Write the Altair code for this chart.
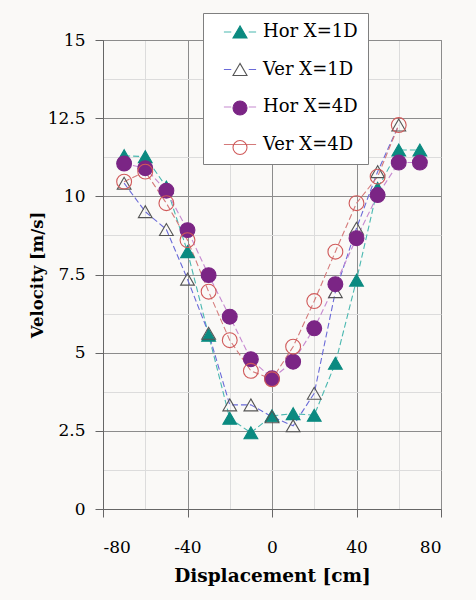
import altair as alt
import pandas as pd

# ---- data ----
series_names = ["Hor X=1D", "Ver X=1D", "Hor X=4D", "Ver X=4D"]
x_hor = [-70, -60, -50, -40, -30, -20, -10, 0, 10, 20, 30, 40, 50, 60, 70]
x_ver = [-70, -60, -50, -40, -30, -20, -10, 0, 10, 20, 30, 40, 50, 60]
hor_1d = [11.3, 11.27, 10.3, 8.23, 5.56, 2.9, 2.44, 2.98, 3.05, 3.0, 4.66, 7.32, 10.26, 11.48, 11.48]
ver_1d = [10.42, 9.51, 8.94, 7.35, 5.62, 3.33, 3.33, 2.95, 2.66, 3.7, 6.95, 8.98, 10.79, 12.28]
hor_4d = [11.05, 10.9, 10.18, 8.92, 7.48, 6.15, 4.79, 4.18, 4.71, 5.78, 7.19, 8.66, 10.04, 11.08, 11.08]
ver_4d = [10.47, 10.79, 9.78, 8.6, 6.95, 5.4, 4.42, 4.15, 5.19, 6.65, 8.23, 9.78, 10.63, 12.28]

x_ticks = [-80, -60, -40, -20, 0, 20, 40, 60, 80]
y_ticks = [0, 1.25, 2.5, 3.75, 5, 6.25, 7.5, 8.75, 10, 11.25, 12.5, 13.75, 15]

rows = []
for name, xs, vs in [(series_names[0], x_hor, hor_1d), (series_names[1], x_ver, ver_1d),
                     (series_names[2], x_hor, hor_4d), (series_names[3], x_ver, ver_4d)]:
    for xv, vv in zip(xs, vs):
        rows.append({"series": name, "x": xv, "v": vv})
df = pd.DataFrame(rows)

# ---- styles ----
line_colors = ["#4ab8b0", "#6a6ad8", "#c689d0", "#d47a7a"]
marker_stroke = ["#0b8a80", "#555555", "#7b2585", "#d05a5a"]
marker_fill = ["#0b8a80", "transparent", "#7b2585", "transparent"]
legend_marker_fill = ["#0b8a80", "white", "#7b2585", "transparent"]
shapes = ["triangle-up", "triangle-up", "circle", "circle"]
dash_path = "M-2.3,0H-1.25M1.25,0H2.3"
dash_paths = [dash_path, dash_path, dash_path, "M-2.3,0H2.3"]
serif = "DejaVu Serif"

major_x = "datum.value % 40 === 0"
major_y = "datum.value % 2.5 === 0"

axis_style = dict(labelFont=serif, labelFontSize=17, labelColor="black",
                  titleFont=serif, titleFontWeight="bold", titleColor="black",
                  domainColor="#666666", tickColor="#666666", tickSize=8, grid=True, gridWidth=1)

x_enc = alt.X("x:Q", title="Displacement [cm]",
              scale=alt.Scale(domain=[-80, 80], nice=False, zero=False),
              axis=alt.Axis(values=x_ticks, labelExpr=f"{major_x} ? '' + datum.value : ''",
                            gridColor={"condition": {"test": major_x, "value": "#8c8c8c"}, "value": "#dcdcdc"},
                            tickOpacity={"condition": {"test": major_x, "value": 1}, "value": 0},
                            labelPadding=22, titlePadding=11, titleFontSize=18.5, **axis_style))
y_enc = alt.Y("v:Q", title="Velocity  [m/s]",
              scale=alt.Scale(domain=[0, 15], nice=False),
              axis=alt.Axis(values=y_ticks, labelExpr=f"{major_y} ? '' + datum.value : ''",
                            gridColor={"condition": {"test": major_y, "value": "#8c8c8c"}, "value": "#dcdcdc"},
                            tickOpacity={"condition": {"test": major_y, "value": 1}, "value": 0},
                            labelPadding=10, titlePadding=2, titleFontSize=16.5, **axis_style))

lines = alt.Chart(df).mark_line(strokeDash=[6, 3], strokeWidth=1.1).encode(
    x=x_enc, y=y_enc,
    stroke=alt.Stroke("series:N", scale=alt.Scale(domain=series_names, range=line_colors), legend=None),
    order="x:Q",
)

points = alt.Chart(df).mark_point(filled=True, strokeWidth=1.1, opacity=1).encode(
    x=x_enc, y=y_enc,
    shape=alt.Shape("series:N", scale=alt.Scale(domain=series_names, range=shapes), legend=None),
    fill=alt.Fill("series:N", scale=alt.Scale(domain=series_names, range=marker_fill), legend=None),
    stroke=alt.Stroke("series:N", scale=alt.Scale(domain=series_names, range=marker_stroke), legend=None),
    size=alt.condition("indexof(datum.series, 'X=4D') >= 0", alt.value(220), alt.value(190)),
)

common_legend = dict(title=None, orient="none", legendX=100, legendY=-27, symbolSize=196,
                     labelFont=serif, labelFontSize=18, rowPadding=19.5, padding=10,
                     symbolOffset=18, labelOffset=14)

legA = alt.Legend(labelColor="black", fillColor="white", strokeColor="#7f7f7f",
                  symbolStrokeWidth=1.2, **common_legend)
legB = alt.Legend(labelColor="transparent", labelExpr="' '", symbolStrokeWidth=1.1,
                  symbolOpacity=1, **common_legend)

legend_lines = alt.Chart(df).transform_filter("false").mark_point(filled=False, strokeWidth=1.2, opacity=1).encode(
    shape=alt.Shape("series:N", scale=alt.Scale(domain=series_names, range=dash_paths), legend=legA),
    stroke=alt.Stroke("series:N", scale=alt.Scale(domain=series_names, range=line_colors), legend=legA),
)

legend_marks = alt.Chart(df).transform_filter("false").mark_point(filled=True, strokeWidth=1.1, opacity=1).encode(
    shape=alt.Shape("series:N", scale=alt.Scale(domain=series_names, range=shapes), legend=legB),
    fill=alt.Fill("series:N", scale=alt.Scale(domain=series_names, range=legend_marker_fill), legend=legB),
    stroke=alt.Stroke("series:N", scale=alt.Scale(domain=series_names, range=marker_stroke), legend=legB),
)

chart = alt.layer(lines, points, legend_lines, legend_marks).resolve_scale(
    shape="independent", stroke="independent", fill="independent"
).properties(
    width=338, height=469,
    padding={"left": 103, "top": 40, "right": 35, "bottom": 91},
    autosize=alt.AutoSizeParams(type="none"),
    background="#faf9f7",
).configure(
    font=serif,
    style={"guide-label": {"font": serif}, "guide-title": {"font": serif}},
).configure_view(
    fill="white", stroke="#8c8c8c"
).configure_axis(
    **axis_style
)

chart.save("out.html", embed_options={"renderer": "svg", "actions": False})
